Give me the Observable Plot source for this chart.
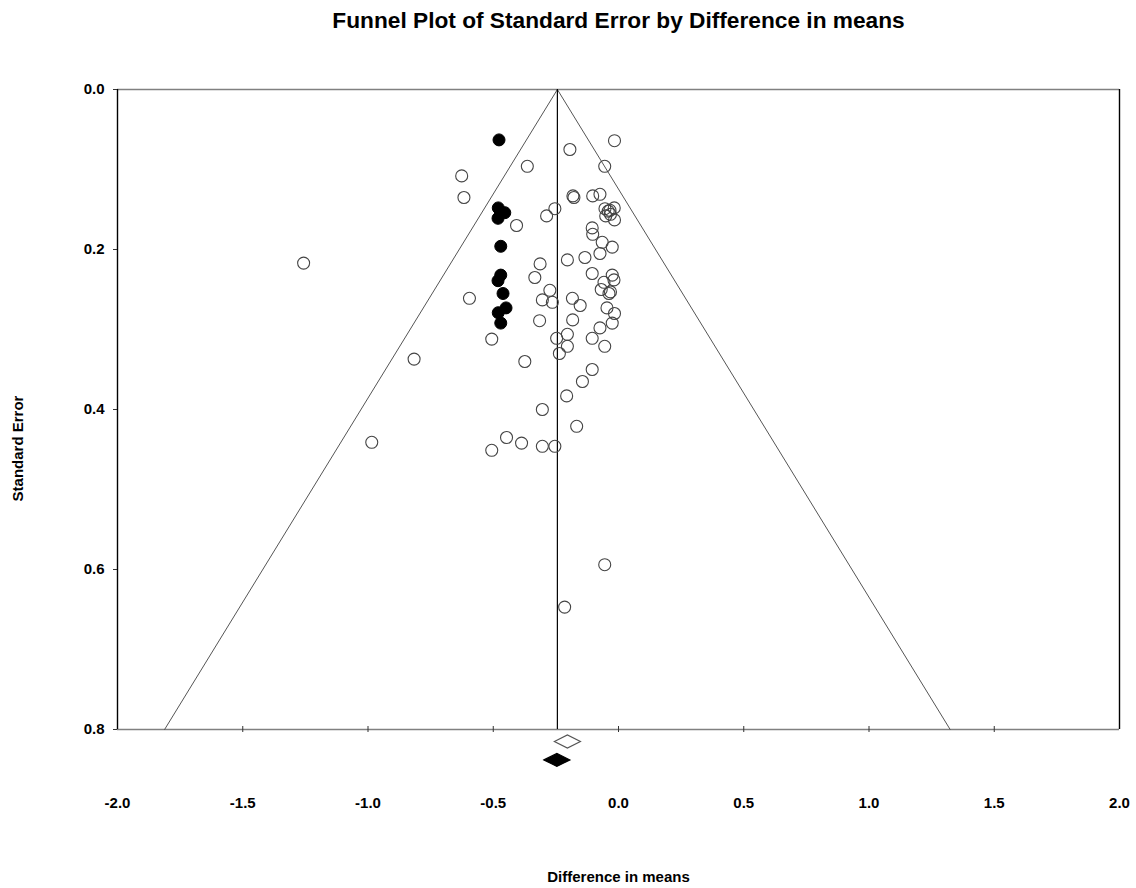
<!DOCTYPE html>
<html><head><meta charset="utf-8">
<script src="https://cdn.jsdelivr.net/npm/d3@7"></script>
<script src="https://cdn.jsdelivr.net/npm/@observablehq/plot@0.6"></script>
<style>body{margin:0;background:#fff;} svg{display:block;}</style>
</head><body><div id="chart"></div>
<script>
// Studies (open circles): difference in means, standard error
const openX = [-0.016,-0.194,-0.364,-0.055,-0.626,-0.617,-0.182,-0.178,-0.103,-0.074,
  -0.254,-0.287,-0.054,-0.041,-0.034,-0.017,-0.051,-0.032,-0.016,-0.407,
  -0.105,-0.103,-0.065,-0.025,-0.074,-0.134,-0.204,-0.313,-0.105,-0.334,
  -0.025,-0.018,-0.058,-0.069,-0.038,-0.032,-0.595,-0.274,-0.304,-0.264,
  -0.184,-0.153,-0.046,-0.016,-0.315,-0.183,-0.025,-0.074,-0.506,-0.247,
  -0.204,-0.105,-0.204,-0.055,-0.236,-0.374,-0.105,-0.144,-0.207,-0.304,
  -0.167,-0.447,-0.387,-0.304,-0.254,-0.506,-0.816,-0.985,-1.257,-0.055,-0.215];
const openSE = [0.064,0.075,0.096,0.096,0.108,0.135,0.133,0.135,0.133,0.131,
  0.149,0.158,0.149,0.152,0.151,0.148,0.158,0.156,0.163,0.170,
  0.173,0.181,0.191,0.197,0.205,0.210,0.213,0.218,0.230,0.235,
  0.232,0.238,0.241,0.250,0.255,0.253,0.261,0.251,0.263,0.266,
  0.261,0.270,0.273,0.280,0.289,0.288,0.292,0.298,0.312,0.311,
  0.306,0.311,0.321,0.321,0.330,0.340,0.350,0.365,0.383,0.400,
  0.421,0.435,0.442,0.446,0.446,0.451,0.337,0.441,0.217,0.594,0.647];
// Imputed studies (filled circles)
const filledX = [-0.477,-0.480,-0.454,-0.481,-0.470,-0.470,-0.481,-0.461,-0.449,-0.480,-0.470];
const filledSE = [0.063,0.148,0.154,0.161,0.196,0.232,0.239,0.255,0.273,0.279,0.292];
// Combined effects (diamonds): observed (open) and adjusted (filled)
const diamondX = [-0.204, -0.246];
const diamondSE = [0.815, 0.838];
const diamondFill = ["white", "black"];
// Funnel
const meanEffect = -0.244;
const funnelX = [-1.812, -0.244, 1.324];
const funnelSE = [0.8, 0, 0.8];
// Ticks
const xTicks = [-2, -1.5, -1, -0.5, 0, 0.5, 1, 1.5, 2];
const yTicks = [0, 0.2, 0.4, 0.6, 0.8];

const openData = openX.map((x, i) => ({x, se: openSE[i]}));
const filledData = filledX.map((x, i) => ({x, se: filledSE[i]}));
const diamondData = diamondX.map((x, i) => ({x, se: diamondSE[i], fill: diamondFill[i]}));
const funnelData = funnelX.map((x, i) => ({x, se: funnelSE[i]}));

const flatDiamond = {
  draw(context, size) {
    const w = Math.sqrt(size / Math.PI);
    const h = w / 2;
    context.moveTo(-w, 0);
    context.lineTo(0, -h);
    context.lineTo(w, 0);
    context.lineTo(0, h);
    context.closePath();
  }
};

const font = "'Liberation Sans', Arial, sans-serif";

const chart = Plot.plot({
  width: 1136,
  height: 888,
  marginLeft: 117,
  marginRight: 17,
  marginTop: 89,
  marginBottom: 159,
  style: {fontFamily: font, background: "white", color: "black"},
  x: {domain: [-2, 2]},
  y: {domain: [0, 0.8], reverse: true},
  marks: [
    // frame
    Plot.ruleY([0, 0.8], {stroke: "#808080", strokeWidth: 1.6}),
    Plot.ruleX([-2, 2], {stroke: "#000", strokeWidth: 1.4}),
    // x tick marks crossing the bottom edge
    Plot.ruleX(xTicks.slice(1, -1), {y1: 0.8, y2: 0.8, insetTop: -3, insetBottom: -3, stroke: "#333", strokeWidth: 1}),
    Plot.axisX({ticks: xTicks, tickSize: 0, tickPadding: 68, tickFormat: d => d.toFixed(1), label: null, fontSize: 15, fontWeight: "bold"}),
    Plot.axisY({ticks: yTicks, tickSize: 4, tickPadding: 9, tickFormat: d => d.toFixed(1), label: null, fontSize: 15, fontWeight: "bold", stroke: "#333"}),
    // funnel
    Plot.line(funnelData, {x: "x", y: "se", stroke: "#555", strokeWidth: 1}),
    Plot.ruleX([meanEffect], {y1: 0, y2: 0.8, stroke: "#000", strokeWidth: 1.2}),
    // studies
    Plot.dot(openData, {x: "x", y: "se", r: 6, stroke: "#444", strokeWidth: 1.1, fill: "none"}),
    Plot.dot(filledData, {x: "x", y: "se", r: 6, fill: "#000", stroke: "#000", strokeWidth: 1}),
    // diamonds
    Plot.dot(diamondData, {x: "x", y: "se", r: 13, symbol: flatDiamond, fill: "fill", stroke: d => d.fill === "white" ? "#555" : "#000", strokeWidth: 1.2}),
    // titles
    Plot.text(["Funnel Plot of Standard Error by Difference in means"], {frameAnchor: "top", lineAnchor: "middle", textAnchor: "middle", dy: -69, fontSize: 22.7, fontWeight: "bold", fill: "#000"}),
    Plot.text(["Difference in means"], {frameAnchor: "bottom", lineAnchor: "middle", textAnchor: "middle", dy: 148, fontSize: 15, fontWeight: "bold", fill: "#000"}),
    Plot.text(["Standard Error"], {frameAnchor: "left", lineAnchor: "middle", textAnchor: "middle", dx: -99, dy: 39, rotate: -90, fontSize: 15, fontWeight: "bold", fill: "#000"})
  ]
});
document.getElementById("chart").appendChild(chart);
</script>
</body></html>
